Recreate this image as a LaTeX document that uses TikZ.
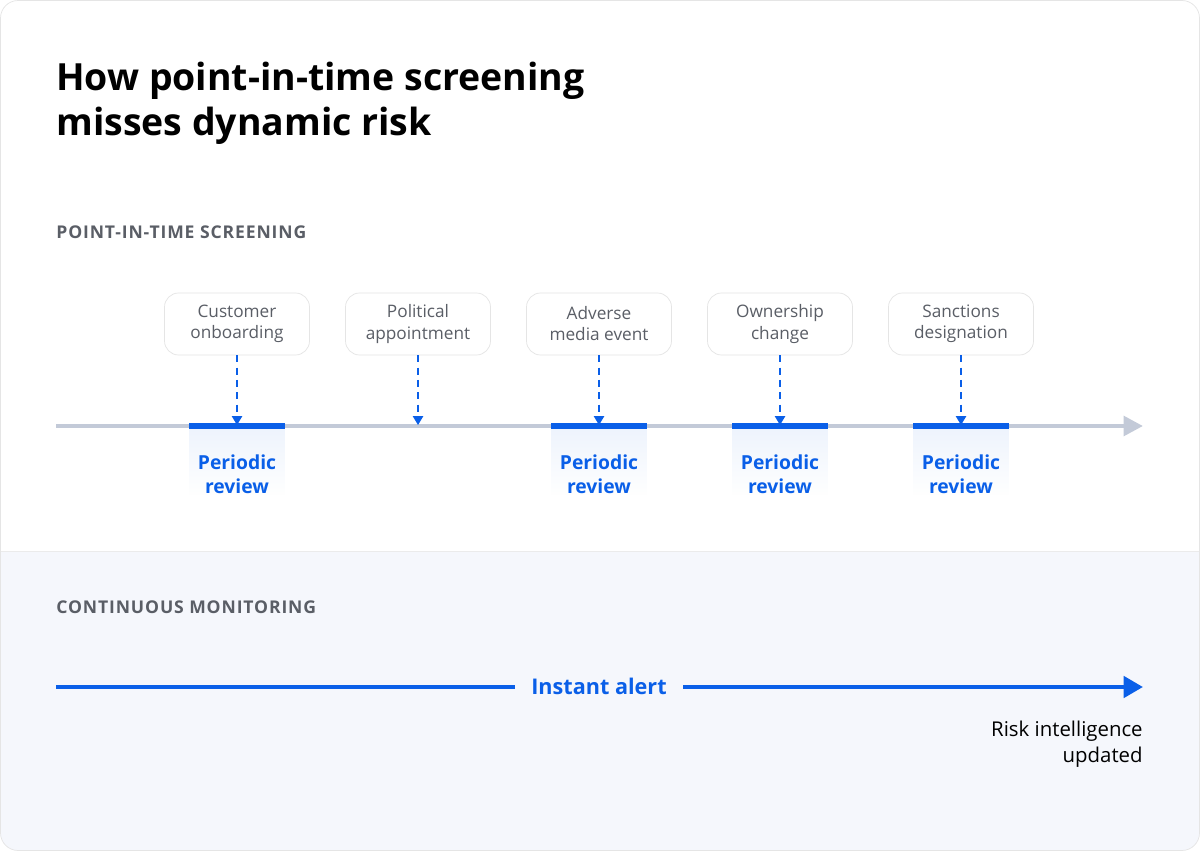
\documentclass[tikz,border=0pt]{standalone}
\usepackage{fontspec}
\setmainfont{Open Sans}
\usetikzlibrary{arrows.meta,fadings,positioning}
\definecolor{accent}{HTML}{0A5FE8}
\definecolor{axis}{HTML}{C3CAD8}
\definecolor{inkgray}{HTML}{5A5E66}
\definecolor{lowbg}{HTML}{F5F7FC}
\tikzset{
  event/.style={draw=black!10,fill=white,rounded corners=8pt,minimum width=145\unitpx,
    minimum height=62\unitpx,align=center,text=inkgray,font=\fontsize{9.8}{12}\selectfont},
  review/.style={text=accent,align=center,font=\fontsize{11}{13.5}\selectfont\bfseries},
  section/.style={anchor=west,inner sep=0pt,text=inkgray,
    font=\fontsize{10}{12}\addfontfeatures{LetterSpace=5}\bfseries},
  probe/.style={accent,dash pattern=on 4pt off 3pt,line width=0.7pt,
    -{Triangle[length=5pt,width=6pt,sep=0pt,line width=0pt]}},
}
\newlength{\unitpx}\setlength{\unitpx}{0.02cm}
\begin{document}
\begin{tikzpicture}[x=0.02cm,y=-0.02cm]
   \useasboundingbox (0,0) rectangle (1200,851);
   % card
   \begin{scope}
     \clip[rounded corners=10pt] (0.5,0.5) rectangle (1199.5,850.5);
     \fill[white] (0,0) rectangle (1200,851);
     \fill[lowbg] (0,551) rectangle (1200,851);
     \draw[black!8] (0,551) -- (1200,551);
   \end{scope}
   \draw[black!10,rounded corners=10pt] (0.5,0.5) rectangle (1199.5,850.5);

   \node[anchor=north west,align=left,inner sep=0pt,font=\fontsize{21.3}{25.5}\selectfont\bfseries] (title) at (56,62)
     {How point-in-time screening\\misses dynamic risk};

   \node[section] (pit) at (56,232) {POINT-IN-TIME SCREENING};

   % timeline
   \coordinate (t0) at (56,426);
   \coordinate (t1) at (1143,426);
   \draw[axis,line width=2.5pt,-{Triangle[length=11pt,width=11pt]}] (t0) -- (t1);

   % periodic reviews
   \foreach \cx/\nm in {237/a,599/c,780/d,961/e}{
     \fill[accent!7,path fading=south] (\cx-48,428) rectangle (\cx+48,495);
     \draw[accent,line width=3pt] (\cx-48,426) -- (\cx+48,426);
     \node[review] (rev-\nm) at (\cx,474) {Periodic\\review};
   }

   % events
   \foreach \cx/\nm/\txt in {237/a/{Customer\\onboarding},418/b/{Political\\appointment},
       599/c/{Adverse\\media event},780/d/{Ownership\\change},961/e/{Sanctions\\designation}}{
     \node[event] (ev-\nm) at (\cx,324) {\txt};
     \coordinate (hit-\nm) at (\cx,425);
     \draw[probe] (ev-\nm.south) -- (hit-\nm);
   }

   % continuous monitoring
   \node[section] (cm) at (56,607) {CONTINUOUS MONITORING};
   \coordinate (c0) at (56,687);
   \coordinate (c1) at (1143,687);
   \node[text=accent,inner xsep=16\unitpx,font=\fontsize{12.3}{14}\selectfont\bfseries] (alert) at (599,686) {Instant alert};
   \draw[accent,line width=2.5pt] (c0) -- (alert.west |- c0);
   \draw[accent,line width=2.5pt,-{Triangle[length=11pt,width=12pt]}] (alert.east |- c1) -- (c1);
   \node[anchor=north east,align=right,inner sep=0pt,font=\fontsize{11.6}{14.5}\selectfont] (upd) at (1143,721)
     {Risk intelligence\\updated};
\end{tikzpicture}
\end{document}
